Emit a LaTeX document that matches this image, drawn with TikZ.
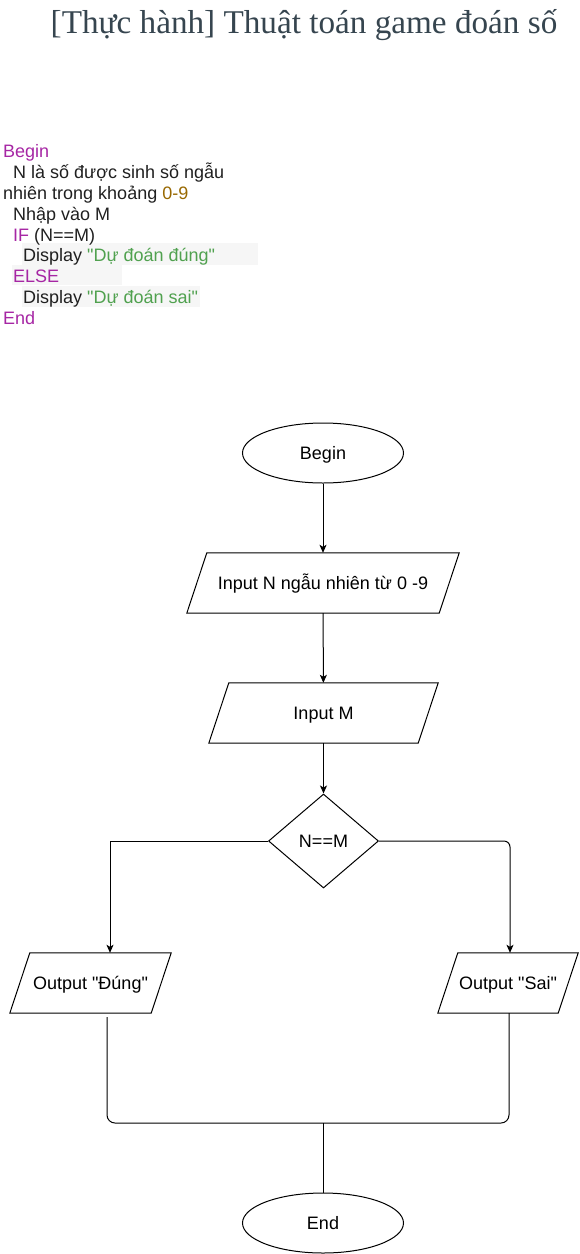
\documentclass[tikz,border=0pt]{standalone}
\usepackage{fontspec}
\setmainfont{Liberation Serif}
\newfontfamily\arialfont{Liberation Sans}
\usetikzlibrary{shapes.geometric,arrows.meta}
\definecolor{titlecol}{HTML}{36454F}
\definecolor{kwcol}{HTML}{A626A4}
\definecolor{strcol}{HTML}{50A14F}
\definecolor{numcol}{HTML}{986801}
\definecolor{codecol}{HTML}{202020}
\definecolor{hlcol}{HTML}{F6F6F6}
\tikzset{
  code/.style={anchor=base west, inner sep=0, text=codecol,
    font=\arialfont\fontsize{18}{21}\selectfont},
  chartfont/.style={font=\arialfont\fontsize{18}{21}\selectfont,
    text height=12.9pt, text depth=0pt},
  term/.style={draw, ellipse, minimum width=161, minimum height=60, inner sep=0,
    line width=1pt, chartfont},
  % text box of an input/output block; the slanted frame is drawn by \ioframe
  io/.style={rectangle, minimum width=#1, minimum height=60, inner sep=0, chartfont},
  decision/.style={draw, diamond, minimum width=110, minimum height=94, inner sep=0,
    line width=1pt, chartfont},
  flow/.style={line width=1pt, -{Stealth[length=8pt,width=7pt,inset=2pt]}},
  joinline/.style={line width=1pt, rounded corners=8pt},
}
% parallelogram round a node: top edge shifted right, bottom edge shifted left
\newcommand\ioframe[1]{%
  \draw[line width=1pt] ([xshift=10pt]#1.north west) -- ([xshift=10pt]#1.north east)
    -- ([xshift=-10pt]#1.south east) -- ([xshift=-10pt]#1.south west) -- cycle;}
\begin{document}
\begin{tikzpicture}[x=1pt,y=-1pt]
\useasboundingbox (0,0) rectangle (580,1254);

% title
\node[anchor=base, inner sep=0, text=titlecol, font=\fontsize{33.2}{38}\selectfont]
  (title) at (304,33) {[Thực hành] Thuật toán game đoán số};

% pseudocode
\fill[hlcol] (22,243) rectangle (258,265);
\fill[hlcol] (12,265) rectangle (122,285);
\fill[hlcol] (22,286) rectangle (200,307);
\node[code] (c1) at (3,157) {\textcolor{kwcol}{Begin}};
\node[code] (c2) at (13,178) {N là số được sinh số ngẫu};
\node[code] (c3) at (3,199) {nhiên trong khoảng \textcolor{numcol}{0-9}};
\node[code] (c4) at (13,220) {Nhập vào M};
\node[code] (c5) at (13,241) {\textcolor{kwcol}{IF} (N==M)};
\node[code] (c6) at (23,261.5) {Display \textcolor{strcol}{"Dự đoán đúng"}};
\node[code] (c7) at (13,282) {\textcolor{kwcol}{ELSE}};
\node[code] (c8) at (23,303) {Display \textcolor{strcol}{"Dự đoán sai"}};
\node[code] (c9) at (3,324) {\textcolor{kwcol}{End}};

% flowchart
\node[term] (begin) at (323,453) {Begin};
\node[io=252] (inN) at (323,583) {Input N ngẫu nhiên từ 0 -9};
\node[io=209] (inM) at (323.5,713) {Input M};
\node[decision] (dec) at (323.5,841) {N==M};
\node[io=141] (outT) at (90.5,983) {Output "Đúng"};
\node[io=120] (outS) at (508,983) {Output "Sai"};
\node[term] (end) at (323,1223) {End};
\coordinate (merge) at (323,1123);
\ioframe{inN}
\ioframe{inM}
\ioframe{outT}
\ioframe{outS}

\draw[flow] (begin) -- (inN);
\draw[flow] (inN) -- (inM);
\draw[flow] (inM) -- (dec);
\draw[flow] (dec.west) -| ([xshift=19.5pt]outT.north);
\draw[flow, rounded corners=6pt] (dec.east) -| ([xshift=2pt]outS.north);
\draw[joinline] ([xshift=16.5pt,yshift=-4pt]outT.south) |- (merge)
  -| ([xshift=1pt]outS.south);
\draw[line width=1pt] (merge) -- (end);
\end{tikzpicture}
\end{document}
